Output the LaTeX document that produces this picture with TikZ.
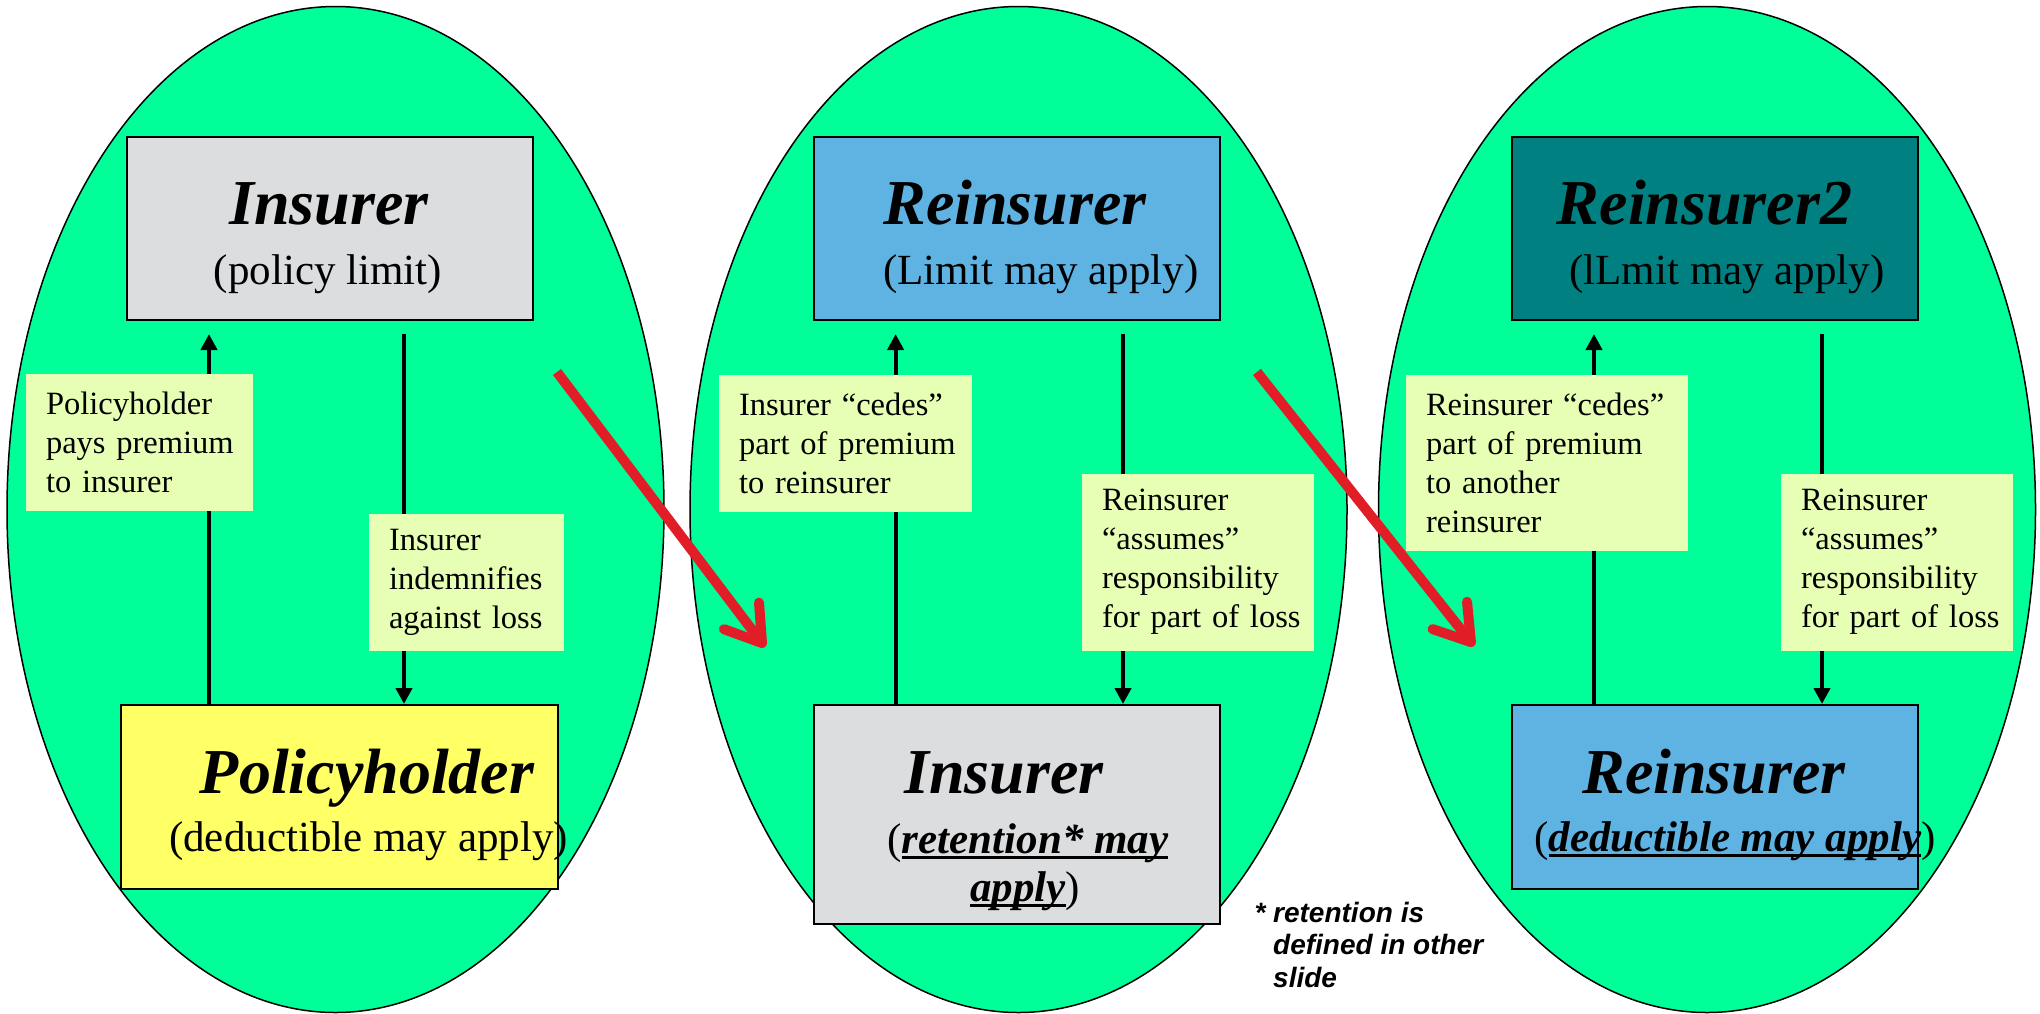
\documentclass[tikz,border=0pt]{standalone}
\usepackage{fontspec}
\setmainfont{Liberation Serif}
\newfontfamily\notefont{Liberation Sans}
\usetikzlibrary{arrows.meta,shapes.geometric}

\definecolor{ovalgreen}{RGB}{0,255,153}
\definecolor{boxgray}{RGB}{220,221,223}
\definecolor{boxblue}{RGB}{94,179,227}
\definecolor{boxteal}{RGB}{0,128,128}
\definecolor{boxyellow}{RGB}{255,255,102}
\definecolor{notebg}{RGB}{230,255,180}
\definecolor{passred}{RGB}{225,30,40}

% underline that sits just under the baseline
\newcommand{\ulbar}[1]{\setbox0\hbox{#1}\rlap{\rule[-5.5pt]{\wd0}{2.5pt}}\box0}

\begin{document}
\begin{tikzpicture}[x=1pt,y=-1pt,
  oval/.style={ellipse, draw=black, line width=1.5pt, fill=ovalgreen,
    inner sep=0pt, minimum width=657pt, minimum height=1006pt},
  party/.style={draw=black, line width=2pt, inner sep=0pt,
    minimum width=406pt, minimum height=183pt},
  note/.style={fill=notebg, inner xsep=20pt, inner ysep=0pt, align=left,
    font=\fontsize{32.5}{39}\selectfont},
  title/.style={anchor=base, inner sep=0pt,
    font=\fontsize{64}{70}\selectfont\bfseries\itshape},
  sub/.style={anchor=base, inner sep=0pt, font=\fontsize{43}{50}\selectfont},
  flow/.style={line width=4pt, -{Triangle[length=16pt,width=16pt]}},
  pass/.style={line width=10pt, draw=passred,
    -{Straight Barb[length=34pt,width=44pt,round]}}
]
\useasboundingbox (0,0) rectangle (2040,1013);
\fill[white] (0,0) rectangle (2040,1013);

% the three ovals
\node[oval] (o1) at (335.5,509.5) {};
\node[oval] (o2) at (1018.5,509.5) {};
\node[oval] (o3) at (1707,509.5) {};

% parties
\node[party, fill=boxgray] (ins1) at (330,228.5) {};
\node[party, fill=boxyellow, minimum width=436.6pt, minimum height=184pt] (ph) at (339.3,797) {};
\node[party, fill=boxblue] (re1) at (1017,228.5) {};
\node[party, fill=boxgray, minimum height=219pt] (ins2) at (1017,814.5) {};
\node[party, fill=boxteal] (re2) at (1715,228.5) {};
\node[party, fill=boxblue, minimum height=184pt] (re3) at (1715,797) {};

% party texts
\node[title] (ins1t) at (329,224) {Insurer};
\node[sub] (ins1s) at (328,284) {(policy limit)};
\node[title] (pht) at (367,793) {Policyholder};
\node[sub] (phs) at (368.5,851) {(deductible may apply)};
\node[title] (re1t) at (1015,224) {Reinsurer};
\node[sub] (re1s) at (1041,284) {(Limit may apply)};
\node[title] (ins2t) at (1004,793) {Insurer};
\node[sub] (ins2s) at (1028,853) {({\bfseries\itshape\ulbar{retention* may}}};
\node[sub] (ins2u) at (1025,901) {{\bfseries\itshape\ulbar{apply}})};
\node[title] (re2t) at (1704.5,224) {Reinsurer2};
\node[sub] (re2s) at (1727,284) {(lLmit may apply)};
\node[title] (re3t) at (1714,793) {Reinsurer};
\node[sub] (re3s) at (1735,851) {({\bfseries\itshape\ulbar{deductible may apply}})};

% columns of the premium and loss connectors
\coordinate (u1) at (209,0);
\coordinate (d1) at (404,0);
\coordinate (u2) at (895.6,0);
\coordinate (d2) at (1123,0);
\coordinate (u3) at (1594,0);
\coordinate (d3) at (1822,0);

\draw[flow, shorten >=13pt] (ph.north -| u1) -- (ins1.south -| u1);
\draw[flow, shorten <=13pt] (ins1.south -| d1) -- (ph.north -| d1);
\draw[flow, shorten >=13pt] (ins2.north -| u2) -- (re1.south -| u2);
\draw[flow, shorten <=13pt] (re1.south -| d2) -- (ins2.north -| d2);
\draw[flow, shorten >=13pt] (re3.north -| u3) -- (re2.south -| u3);
\draw[flow, shorten <=13pt] (re2.south -| d3) -- (re3.north -| d3);

% notes on the connectors
\node[note, text width=187pt, minimum height=137pt] (n1) at (139.5,442)
  {\mbox{Policyholder}\\\mbox{pays premium}\\\mbox{to insurer}};
\node[note, text width=155pt, minimum height=137pt] (n2) at (466.5,582)
  {\mbox{Insurer}\\\mbox{indemnifies}\\\mbox{against loss}};
\node[note, text width=213pt, minimum height=137pt] (n3) at (845.5,443)
  {\mbox{Insurer “cedes”}\\\mbox{part of premium}\\\mbox{to reinsurer}};
\node[note, text width=192pt, minimum height=177pt] (n4) at (1198,562)
  {\mbox{Reinsurer}\\\mbox{“assumes”}\\\mbox{responsibility}\\\mbox{for part of loss}};
\node[note, text width=241.5pt, minimum height=176pt] (n5) at (1546.75,462.5)
  {\mbox{Reinsurer “cedes”}\\\mbox{part of premium}\\\mbox{to another}\\\mbox{reinsurer}};
\node[note, text width=192pt, minimum height=177pt] (n6) at (1897,562)
  {\mbox{Reinsurer}\\\mbox{“assumes”}\\\mbox{responsibility}\\\mbox{for part of loss}};

% passing risk on to the next layer
\coordinate (p1s) at (557,372);
\coordinate (p1e) at (765,647);
\coordinate (p2s) at (1257,372);
\coordinate (p2e) at (1474,646);
\draw[pass] (p1s) -- (p1e);
\draw[pass] (p2s) -- (p2e);

% footnote (its base is the baseline of the last line)
\node[anchor=base west, inner sep=0pt, align=left,
  font=\notefont\fontsize{28}{32.5}\selectfont\bfseries\itshape] (fn) at (1273,987)
  {\llap{*\ }retention is\\defined in other\\slide};
\end{tikzpicture}
\end{document}
